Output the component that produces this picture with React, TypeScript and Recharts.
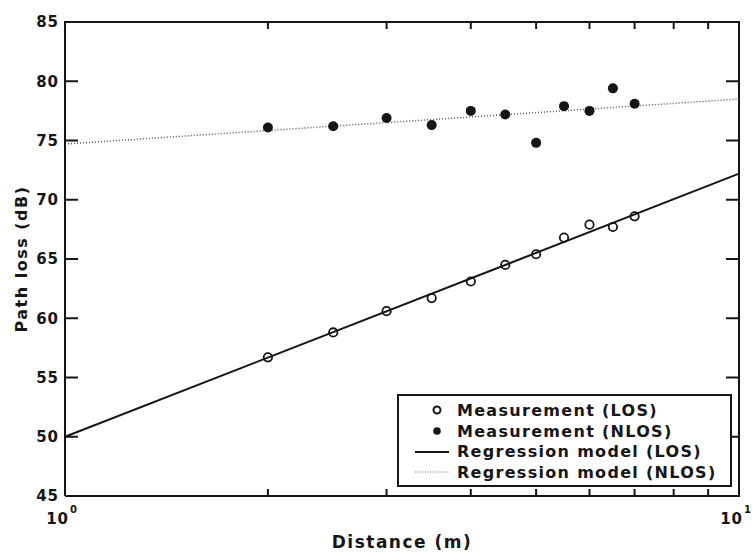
import React from 'react';
import { ComposedChart, Line, Scatter, XAxis, YAxis } from 'recharts';

// measured distances (m) and path loss (dB)
const distances = [2, 2.5, 3, 3.5, 4, 4.5, 5, 5.5, 6, 6.5, 7];
const losLoss = [56.7, 58.8, 60.6, 61.7, 63.1, 64.5, 65.4, 66.8, 67.9, 67.7, 68.6];
const nlosLoss = [76.1, 76.2, 76.9, 76.3, 77.5, 77.2, 74.8, 77.9, 77.5, 79.4, 78.1];

// regression line end points (d = 1 m and d = 10 m)
const fitDistances = [1, 10];
const losFit = [50.0, 72.2];
const nlosFit = [74.7, 78.5];

const xTicks = [1, 2, 3, 4, 5, 6, 7, 8, 9, 10];
const yTicks = [45, 50, 55, 60, 65, 70, 75, 80, 85];
const xMinor = [2, 3, 4, 5, 6, 7, 8, 9];
const yInner = [50, 55, 60, 65, 70, 75, 80];

const losData = distances.map((x, i) => ({ x, y: losLoss[i] }));
const nlosData = distances.map((x, i) => ({ x, y: nlosLoss[i] }));
const losFitData = fitDistances.map((x, i) => ({ x, y: losFit[i] }));
const nlosFitData = fitDistances.map((x, i) => ({ x, y: nlosFit[i] }));

const FONT = '"DejaVu Sans", Arial, sans-serif';
const INK = '#161616';

const CHART_W = 756;
const CHART_H = 553;
const MARGIN = { top: 22, right: 17, bottom: 0, left: 0 };
const Y_AXIS_W = 65;
const X_AXIS_H = 57;
// plot box derived from the chart layout above
const BOX = {
  left: MARGIN.left + Y_AXIS_W,
  top: MARGIN.top,
  right: CHART_W - MARGIN.right,
  bottom: CHART_H - MARGIN.bottom - X_AXIS_H,
};

const BottomTick = (props: any) => {
  const { x, y, payload } = props;
  const v = payload.value;
  const exp = v === 1 ? '0' : v === 10 ? '1' : null;
  return (
    <g>
      {exp === null && <line x1={x} y1={y} x2={x} y2={y - 7} stroke={INK} strokeWidth={2} />}
      {exp !== null && (
        <g fontFamily={FONT} fontWeight="bold" fill={INK}>
          <text x={x + 4} y={y + 28} textAnchor="end" fontSize={15} letterSpacing={1}>10</text>
          <text x={x + 5} y={y + 17} fontSize={10}>{exp}</text>
        </g>
      )}
    </g>
  );
};

const LeftTick = (props: any) => {
  const { x, y, payload } = props;
  const v = payload.value;
  return (
    <g>
      {v !== 45 && v !== 85 && <line x1={x} y1={y} x2={x + 13} y2={y} stroke={INK} strokeWidth={2} />}
      <text x={x - 6} y={y} dy="0.36em" textAnchor="end" fontFamily={FONT} fontWeight="bold"
        fontSize={15} letterSpacing={1} fill={INK}>{v}</text>
    </g>
  );
};

// top and right edges of the box, with inward ticks, laid over the chart
const FrameOverlay = () => {
  const w = BOX.right - BOX.left;
  const h = BOX.bottom - BOX.top;
  const xPos = (d: number) => BOX.left + (w * Math.log10(d)) / Math.log10(10);
  const yPos = (v: number) => BOX.bottom - (h * (v - 45)) / (85 - 45);
  return (
    <svg width={CHART_W} height={CHART_H}
      style={{ position: 'absolute', left: 0, top: 0, pointerEvents: 'none' }}>
      <line x1={BOX.left - 1} y1={BOX.top} x2={BOX.right + 1} y2={BOX.top} stroke={INK} strokeWidth={2} />
      <line x1={BOX.right} y1={BOX.top} x2={BOX.right} y2={BOX.bottom + 1} stroke={INK} strokeWidth={2} />
      {xMinor.map((d) => (
        <line key={d} x1={xPos(d)} y1={BOX.top} x2={xPos(d)} y2={BOX.top + 7} stroke={INK} strokeWidth={2} />
      ))}
      {yInner.map((v) => (
        <line key={v} x1={BOX.right} y1={yPos(v)} x2={BOX.right - 13} y2={yPos(v)} stroke={INK} strokeWidth={2} />
      ))}
    </svg>
  );
};

const OpenDot = (props: any) => (
  <circle cx={props.cx} cy={props.cy} r={4.2} fill="none" stroke={INK} strokeWidth={1.8} />
);
const FilledDot = (props: any) => (
  <circle cx={props.cx} cy={props.cy} r={5} fill={INK} />
);

const legendRows = [
  { label: 'Measurement (LOS)', kind: 'open' },
  { label: 'Measurement (NLOS)', kind: 'filled' },
  { label: 'Regression model (LOS)', kind: 'solid' },
  { label: 'Regression model (NLOS)', kind: 'dotted' },
];

const LegendBox = () => (
  <div style={{
    position: 'absolute', left: 397, top: 394,
    width: 335, height: 93, boxSizing: 'border-box', border: `2px solid ${INK}`,
    background: '#fff', padding: '4px 0 0 0', fontFamily: FONT,
  }}>
    {legendRows.map((r) => (
      <div key={r.label} style={{ display: 'flex', alignItems: 'center', height: 20.7 }}>
        <svg width={58} height={20} style={{ flex: 'none' }}>
          {r.kind === 'open' && <circle cx={38} cy={10} r={3.5} fill="none" stroke={INK} strokeWidth={2} />}
          {r.kind === 'filled' && <circle cx={38} cy={10} r={3.8} fill={INK} />}
          {r.kind === 'solid' && <line x1={16} y1={10} x2={50} y2={10} stroke={INK} strokeWidth={2} />}
          {r.kind === 'dotted' && <line x1={16} y1={10} x2={50} y2={10} stroke="#777" strokeWidth={1} strokeDasharray="1 1.5" />}
        </svg>
        <span style={{ fontWeight: 'bold', fontSize: 16, letterSpacing: 1.3, color: INK, whiteSpace: 'nowrap' }}>
          {r.label}
        </span>
      </div>
    ))}
  </div>
);

const XLabel = (props: any) => {
  const { x, y, width } = props.viewBox;
  return (
    <text x={x + width / 2} y={y + 52} textAnchor="middle" fontFamily={FONT} fontWeight="bold"
      fontSize={17} letterSpacing={1.5} fill={INK}>Distance (m)</text>
  );
};

const YLabel = (props: any) => {
  const { y, height } = props.viewBox;
  const cx = 21;
  const cy = y + height / 2;
  return (
    <text x={cx} y={cy} dy="0.36em" transform={`rotate(-90 ${cx} ${cy})`} textAnchor="middle"
      fontFamily={FONT} fontWeight="bold" fontSize={16} letterSpacing={1.5} fill={INK}>Path loss (dB)</text>
  );
};

const App: React.FC = () => {
  const axisLine = { stroke: INK, strokeWidth: 2 };
  return (
    <div style={{ position: 'absolute', left: 0, top: 0, width: CHART_W, height: CHART_H, background: '#fff' }}>
      <ComposedChart width={CHART_W} height={CHART_H} margin={MARGIN}>
        <XAxis dataKey="x" type="number" scale="log" domain={[1, 10]} ticks={xTicks}
          interval={0} height={X_AXIS_H} tickSize={0} tickMargin={0} tick={<BottomTick />} axisLine={axisLine}
          tickLine={false} label={<XLabel />} />
        <YAxis dataKey="y" type="number" domain={[45, 85]} ticks={yTicks} interval={0}
          width={Y_AXIS_W} tickSize={0} tickMargin={0} tick={<LeftTick />} axisLine={axisLine} tickLine={false}
          label={<YLabel />} />
        <Line data={losFitData} dataKey="y" type="linear" stroke={INK}
          strokeWidth={2} dot={false} activeDot={false} isAnimationActive={false} />
        <Line data={nlosFitData} dataKey="y" type="linear" stroke="#555"
          strokeWidth={1.5} strokeDasharray="1 2" dot={false} activeDot={false} isAnimationActive={false} />
        <Scatter data={losData} dataKey="y" shape={<OpenDot />} isAnimationActive={false} />
        <Scatter data={nlosData} dataKey="y" shape={<FilledDot />} isAnimationActive={false} />
      </ComposedChart>
      <FrameOverlay />
      <LegendBox />
    </div>
  );
};

export default App;
